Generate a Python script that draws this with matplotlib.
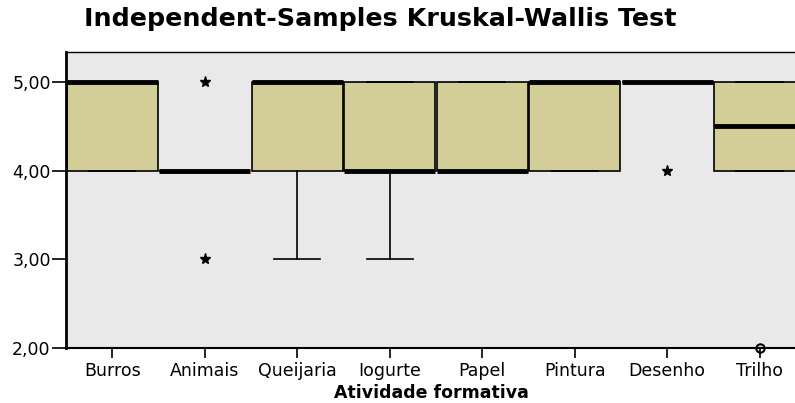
import matplotlib
matplotlib.use("Agg")
import matplotlib.pyplot as plt

categories = ["Burros", "Animais", "Queijaria", "Iogurte", "Papel", "Pintura", "Desenho", "Trilho"]
q1 =      [4.0, 4.0, 4.0, 4.0, 4.0, 4.0, 5.0, 4.0]
median =  [5.0, 4.0, 5.0, 4.0, 4.0, 5.0, 5.0, 4.5]
q3 =      [5.0, 4.0, 5.0, 5.0, 5.0, 5.0, 5.0, 5.0]
whislo =  [4.0, 4.0, 3.0, 3.0, 4.0, 4.0, 5.0, 4.0]
whishi =  [5.0, 4.0, 5.0, 5.0, 5.0, 5.0, 5.0, 5.0]
extremes = [[], [5.0, 3.0], [], [], [], [], [4.0], []]
outliers = [[], [], [], [], [], [], [], [2.0]]
yticks = [2.0, 3.0, 4.0, 5.0]
ytick_labels = ["2,00", "3,00", "4,00", "5,00"]

plt.rcParams['font.family'] = ['DejaVu Sans']

fig = plt.figure(figsize=(7.95, 4.03), dpi=100)
ax = fig.add_axes([66/795, 1-348/403, 1-66/795+0.002, (348-52)/403])
ax.set_facecolor("#e9e9e9")

stats = []
for i in range(len(categories)):
    stats.append(dict(label=categories[i], q1=q1[i], med=median[i], q3=q3[i],
                      whislo=whislo[i], whishi=whishi[i], fliers=[]))
pos = list(range(len(categories)))
ax.bxp(stats, positions=pos, widths=0.985, patch_artist=True, showfliers=False,
       boxprops=dict(facecolor="#d3ce98", edgecolor="black", linewidth=1.2),
       medianprops=dict(color="black", linewidth=3.5, solid_capstyle="butt"),
       whiskerprops=dict(color="black", linewidth=1.2),
       capprops=dict(color="black", linewidth=1.2),
       capwidths=0.5)

for i in pos:
    if extremes[i]:
        ax.plot([i]*len(extremes[i]), extremes[i], linestyle="none", marker="*",
                markersize=8, color="black", clip_on=False, zorder=5)
    if outliers[i]:
        ax.plot([i]*len(outliers[i]), outliers[i], linestyle="none", marker="o",
                markersize=6, markerfacecolor="none", markeredgecolor="black",
                markeredgewidth=1.5, clip_on=False, zorder=5)

ax.set_xlim(-0.5, 7.4)
ax.set_ylim(2.0, 5.34)
ax.set_yticks(yticks)
ax.set_yticklabels(ytick_labels, fontsize=12.5)
ax.set_xticks(pos)
ax.set_xticklabels(categories, fontsize=12.5)
ax.tick_params(axis="y", length=10, width=1.2, pad=1)
ax.tick_params(axis="x", length=7, width=1.2, pad=3)
ax.spines["left"].set_linewidth(2)
ax.spines["bottom"].set_linewidth(1.5)
ax.spines["top"].set_linewidth(1)
ax.spines["right"].set_visible(False)
ax.set_xlabel("Atividade formativa", fontsize=12.5, fontweight="bold", labelpad=3)

fig.text(380/795, 1-19/403, "Independent-Samples Kruskal-Wallis Test", ha="center", va="center",
         fontsize=18.3, fontweight="bold")

fig.savefig("out.png", dpi=100)
